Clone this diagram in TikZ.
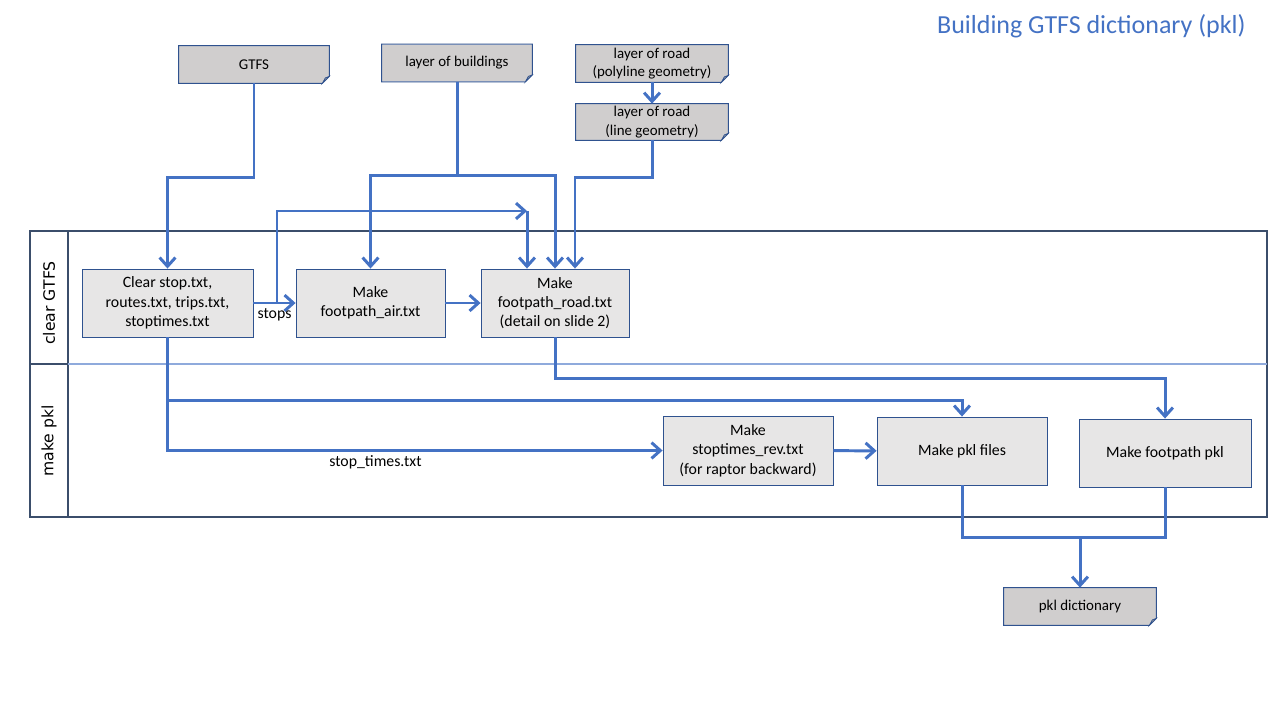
\documentclass[tikz,border=0pt]{standalone}
\usepackage{fontspec}
\setmainfont{Carlito}
\newfontfamily\lanefont{DejaVu Sans}
\usetikzlibrary{arrows.meta}
\definecolor{flowblue}{HTML}{4472C4}
\definecolor{edgeblue}{HTML}{2F528F}
\definecolor{laneedge}{HTML}{3B4E6B}
\definecolor{boxfill}{HTML}{E7E6E6}
\definecolor{docfill}{HTML}{D0CECE}
\definecolor{docfold}{HTML}{A6A6A6}
\definecolor{divider}{HTML}{8FAADC}
\tikzset{
  proc/.style={rectangle,draw=edgeblue,fill=boxfill,line width=0.5pt,align=center,
    font=\fontsize{9}{11}\selectfont,inner sep=1pt},
  doc/.style={rectangle,fill=docfill,align=center,inner sep=1pt,
    minimum width=3cm,minimum height=0.74cm,font=\fontsize{8.5}{10.5}\selectfont},
  docline/.style={draw=edgeblue,line width=0.5pt},
  flow/.style={draw=flowblue,line width=1.7pt,-{Straight Barb[length=5pt,width=9pt]}},
  link/.style={draw=flowblue,line width=1.7pt},
  lbl/.style={font=\fontsize{9}{10}\selectfont,inner sep=2pt},
  lanelabel/.style={font=\lanefont\fontsize{8.9}{10}\selectfont,rotate=90},
  laneborder/.style={draw=laneedge,line width=0.7pt},
}
\begin{document}
\begin{tikzpicture}[x=0.02cm,y=-0.02cm]
\useasboundingbox (0,0) rectangle (1280,720);
% swimlanes
\draw[laneborder] (30,231) rectangle (1267,517);
\draw[laneborder] (68,231) -- (68,517);
\draw[laneborder] (30,364) -- (68,364);
\draw[divider,line width=0.7pt] (68,364) -- (1267,364);
\node (laneA) [lanelabel] at (49,303) {clear GTFS};
\node (laneB) [lanelabel] at (49,441) {make pkl};
%
\node (title) [anchor=east,inner sep=0pt,text=flowblue,font=\fontsize{14.8}{18}\selectfont] at (1246,26) {Building GTFS dictionary (pkl)};
% inputs
\node (gtfs) [doc] at (254,64.5) {GTFS};
\node (bld) [doc] at (457,63) {layer of buildings};
\node (poly) [doc,minimum width=3.04cm] at (652,63.5) {layer of road\\(polyline geometry)};
\node (line) [doc,minimum width=3.04cm,minimum height=0.72cm] at (652,122) {layer of road\\(line geometry)};
\node (dict) [doc,minimum width=3.04cm] at (1080,606.5) {pkl dictionary};
% folded corners
\foreach \d in {gtfs,bld,poly,line,dict}{
  \fill[white] ([xshift=-0.14cm]\d.south east) -- (\d.south east) -- ([yshift=0.14cm]\d.south east) -- cycle;
  \draw[docline] (\d.north west) -- (\d.north east) -- ([yshift=0.14cm]\d.south east)
    -- ([xshift=-0.14cm]\d.south east) -- (\d.south west) -- cycle;
  \draw[docline,fill=docfold,line width=0.4pt] ([xshift=-0.14cm]\d.south east)
    -- ([xshift=-0.08cm,yshift=0.11cm]\d.south east) -- ([yshift=0.14cm]\d.south east) -- cycle;
}
% steps
\node (clear) [proc,minimum width=3.42cm,minimum height=1.36cm] at (167.5,303) {Clear stop.txt,\\routes.txt, trips.txt,\\stoptimes.txt};
\node (air) [proc,minimum width=2.98cm,minimum height=1.36cm] at (370.5,303) {Make\\footpath\_air.txt};
\node (road) [proc,minimum width=2.96cm,minimum height=1.36cm] at (555,303) {Make\\footpath\_road.txt\\(detail on slide 2)};
\node (rev) [proc,minimum width=3.4cm,minimum height=1.38cm] at (748,450.5) {Make\\stoptimes\_rev.txt\\(for raptor backward)};
\node (pklf) [proc,minimum width=3.4cm,minimum height=1.36cm] at (962,451) {Make pkl files};
\node (fpk) [proc,minimum width=3.44cm,minimum height=1.36cm] at (1165,453) {Make footpath pkl};
%
\draw[flow] (gtfs.south) -- ++(0,94) -| (clear.north);
\draw[flow] (bld.south) -- ++(0,94) -| (air.north);
\draw[flow] (bld.south) -- ++(0,94) -| (road.north);
\draw[flow] (poly) -- (line);
\draw[flow] (line.south) -- ++(0,37) -| ([xshift=0.4cm]road.north);
\draw[flow] (clear.east) -- node[lbl,below,xshift=0pt] {stops} (air.west);
\coordinate (sp) at (277,303);
\coordinate (jt) at (527,211);
\draw[flow] (sp) |- (jt);
\draw[flow] (jt) -- (jt |- road.north);
\draw[flow] (air) -- (road);
\draw[flow] (road.south) -- ++(0,41) -| (fpk.north);
\draw[flow] (clear.south) -- ++(0,63) -| (pklf.north);
\draw[flow] (clear.south) |- node[lbl,below,pos=0.71] {stop\_times.txt} (rev.west);
\draw[flow] (rev) -- (pklf);
\draw[link] (pklf.south) |- (1080,537) coordinate (mg) -| (fpk.south);
\draw[flow] (mg) -- (dict.north);
\end{tikzpicture}
\end{document}
